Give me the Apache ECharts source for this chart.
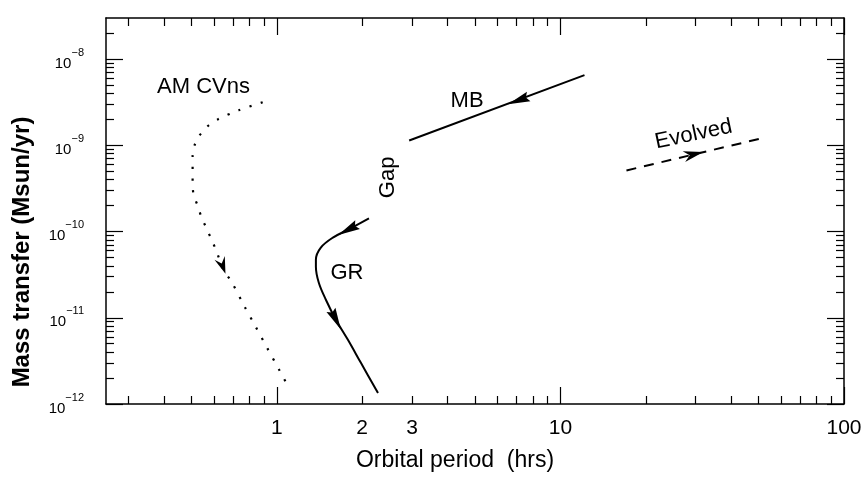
<!DOCTYPE html>
<html>
<head>
<meta charset="utf-8">
<title>Mass transfer vs orbital period</title>
<script src="https://cdn.jsdelivr.net/npm/echarts@6/dist/echarts.min.js"></script>
<style>
  html, body { margin: 0; padding: 0; background: #fff; }
  #chart { width: 865px; height: 479px; }
</style>
</head>
<body>
<div id="chart"></div>
<script>
// Evolutionary tracks: orbital period (hours) against mass-transfer rate (Msun/yr).
// Each track is listed in the direction of travel.
const amcvnsPeriod = [0.892, 0.734, 0.619, 0.570, 0.535, 0.513, 0.505, 0.505, 0.505, 0.509, 0.526, 0.543, 0.566, 0.589, 0.614, 0.644, 0.699, 0.771, 0.843, 0.929, 1.025, 1.076];
const amcvnsRate   = [3.16e-9, 2.55e-9, 2.0e-9, 1.66e-9, 1.31e-9, 1.0e-9, 7.45e-10, 5.12e-10, 3.71e-10, 2.69e-10, 2.0e-10, 1.46e-10, 1.08e-10, 8.07e-11, 5.85e-11, 3.81e-11, 2.48e-11, 1.34e-11, 7.85e-12, 4.36e-12, 2.42e-12, 1.80e-12];

const grPeriod = [2.114, 1.782, 1.577, 1.43, 1.374, 1.374, 1.407, 1.49, 1.616, 1.782, 1.98, 2.275];
const grRate   = [1.42e-10, 1.05e-10, 8.51e-11, 6.52e-11, 4.72e-11, 3.92e-11, 2.55e-11, 1.62e-11, 9.5e-12, 5.55e-12, 3.0e-12, 1.34e-12];

const mbPeriod = [12.16, 2.93];
const mbRate   = [6.52e-9, 1.14e-9];

const evolvedPeriod = [17.1, 50.9];
const evolvedRate   = [5.12e-10, 1.2e-9];

// Direction arrows sitting on the tracks
const arrowTrack  = ['amcvns', 'gr', 'gr', 'mb', 'evolved'];
const arrowPeriod = [0.644, 1.782, 1.616, 7.11, 29.5];
const arrowRate   = [4.0e-11, 1.05e-10, 9.5e-12, 3.33e-9, 7.85e-10];

// Annotations
const noteText   = ['AM CVns', 'MB', 'Gap', 'GR', 'Evolved'];
const notePeriod = [0.552, 4.69, 2.47, 1.767, 29.5];
const noteRate   = [4.72e-9, 3.25e-9, 4.25e-10, 3.33e-11, 1.34e-9];

// Axis ticks
const periodLabels = [1, 2, 3, 10, 100];
const periodMajor  = [1, 10, 100];
const periodMinor  = [0.3, 0.4, 0.5, 0.6, 0.7, 0.8, 0.9, 2, 3, 4, 5, 6, 7, 8, 9, 20, 30, 40, 50, 60, 70, 80, 90];
const rateMajor = [1e-12, 1e-11, 1e-10, 1e-9, 1e-8];
const rateMinor = [2e-12, 3e-12, 4e-12, 5e-12, 6e-12, 7e-12, 8e-12, 9e-12,
                   2e-11, 3e-11, 4e-11, 5e-11, 6e-11, 7e-11, 8e-11, 9e-11,
                   2e-10, 3e-10, 4e-10, 5e-10, 6e-10, 7e-10, 8e-10, 9e-10,
                   2e-9, 3e-9, 4e-9, 5e-9, 6e-9, 7e-9, 8e-9, 9e-9,
                   2e-8];

const FONT = '"Liberation Sans", Arial, Helvetica, sans-serif';
const INK = '#000';

const zip = (xs, ys) => xs.map((x, i) => [x, ys[i]]);
const tracks = {
  amcvns: zip(amcvnsPeriod, amcvnsRate),
  gr: zip(grPeriod, grRate),
  mb: zip(mbPeriod, mbRate),
  evolved: zip(evolvedPeriod, evolvedRate)
};

const noteStyle = {
  'AM CVns': { rotate: 0 },
  'MB': { rotate: 0 },
  'Gap': { rotate: 90 },
  'GR': { rotate: 0 },
  'Evolved': { rotate: 12 }
};

const arrowShape = {
  amcvns: { path: 'path://M0,0 L14,5 L0,10 L5,5 Z', size: [17, 11] },
  gr: { path: 'path://M0,0 L22,5 L0,10 L3,5 Z', size: [22, 10] },
  mb: { path: 'path://M0,0 L22,5 L0,10 L3,5 Z', size: [22, 10] },
  evolved: { path: 'path://M0,0 L20,5 L0,10 L6,5 Z', size: [20, 11] }
};

const PX_MIN = 0.25, PX_MAX = 100;
const RATE_MIN = 1e-12, RATE_MAX = 3e-8;

const frameLine = { show: true, onZero: false, lineStyle: { color: INK, width: 1.5 } };
const tickLine = { color: INK, width: 1.2 };

function xAxisDef(position, ticks, len, opts) {
  return Object.assign({
    type: 'log', logBase: 10, min: PX_MIN, max: PX_MAX, position: position,
    gridIndex: 0, splitLine: { show: false },
    axisLine: frameLine,
    axisTick: { show: true, inside: true, length: len, customValues: ticks, lineStyle: tickLine },
    axisLabel: { show: false }
  }, opts || {});
}
function yAxisDef(position, ticks, len, opts) {
  return Object.assign({
    type: 'log', logBase: 10, min: RATE_MIN, max: RATE_MAX, position: position,
    gridIndex: 0, splitLine: { show: false },
    axisLine: frameLine,
    axisTick: { show: true, inside: true, length: len, customValues: ticks, lineStyle: tickLine },
    axisLabel: { show: false }
  }, opts || {});
}

const chart = echarts.init(document.getElementById('chart'), null, { renderer: 'canvas' });

const option = {
  animation: false,
  backgroundColor: '#fff',
  grid: { left: 106, right: 21, top: 18, bottom: 75, containLabel: false },
  xAxis: [
    xAxisDef('bottom', periodMajor, 17, {
      name: 'Orbital period  (hrs)',
      nameLocation: 'middle',
      nameGap: 45,
      nameTextStyle: { fontFamily: FONT, fontSize: 23, color: INK, padding: [0, 40, 0, 0] },
      axisLabel: {
        show: true, customValues: periodLabels, margin: 14,
        fontFamily: FONT, fontSize: 21, color: INK,
        formatter: v => String(Math.round(v))
      }
    }),
    xAxisDef('bottom', periodMinor, 8, { axisLine: { show: false } }),
    xAxisDef('top', periodMajor, 17),
    xAxisDef('top', periodMinor, 8, { axisLine: { show: false } })
  ],
  yAxis: [
    yAxisDef('left', rateMajor, 17, {
      name: 'Mass transfer (Msun/yr)',
      nameLocation: 'middle',
      nameGap: 72,
      nameTextStyle: { fontFamily: FONT, fontSize: 24, fontWeight: 'bold', color: INK, padding: [0, 82, 0, 0] },
      axisLabel: {
        show: true, customValues: rateMajor, margin: 22,
        formatter: v => '{b|10}{s|\u2212' + Math.abs(Math.round(Math.log10(v))) + '}',
        rich: {
          b: { fontFamily: FONT, fontSize: 15, color: INK, lineHeight: 24, verticalAlign: 'bottom' },
          s: { fontFamily: FONT, fontSize: 11, color: INK, lineHeight: 24, verticalAlign: 'top' }
        }
      }
    }),
    yAxisDef('left', rateMinor, 8, { axisLine: { show: false } }),
    yAxisDef('right', rateMajor, 17),
    yAxisDef('right', rateMinor, 8, { axisLine: { show: false } })
  ],
  series: [
    {
      name: 'AM CVns', type: 'line', data: tracks.amcvns, showSymbol: false, smooth: 0.3,
      lineStyle: { color: INK, width: 2.2, type: [2.2, 9.5] }, silent: true
    },
    {
      name: 'GR', type: 'line', data: tracks.gr, showSymbol: false, smooth: 0.35,
      lineStyle: { color: INK, width: 2 }, silent: true
    },
    {
      name: 'MB', type: 'line', data: tracks.mb, showSymbol: false,
      lineStyle: { color: INK, width: 2 }, silent: true
    },
    {
      name: 'Evolved', type: 'line', data: tracks.evolved, showSymbol: false,
      lineStyle: { color: INK, width: 2, type: [10, 8] }, silent: true
    },
    {
      name: 'notes', type: 'scatter', silent: true, symbolSize: 1,
      itemStyle: { color: 'rgba(0,0,0,0)', opacity: 1 },
      data: noteText.map((t, i) => ({
        value: [notePeriod[i], noteRate[i]],
        name: t,
        label: {
          show: true, position: 'inside', formatter: t,
          rotate: noteStyle[t].rotate, opacity: 1,
          fontFamily: FONT, fontSize: 22, color: INK
        }
      }))
    }
  ]
};

chart.setOption(option);

// Arrowheads: orient each along the nearest segment of its track, in pixel space
function toPx(p) { return chart.convertToPixel({ xAxisIndex: 0, yAxisIndex: 0 }, p); }
function segDist(q, a, b) {
  const dx = b[0] - a[0], dy = b[1] - a[1];
  const l2 = dx * dx + dy * dy || 1;
  let t = ((q[0] - a[0]) * dx + (q[1] - a[1]) * dy) / l2;
  t = Math.max(0, Math.min(1, t));
  const cx = a[0] + t * dx - q[0], cy = a[1] + t * dy - q[1];
  return Math.sqrt(cx * cx + cy * cy);
}
function headingAt(trackName, pt) {
  const px = tracks[trackName].map(toPx);
  const q = toPx(pt);
  let best = 0, bestD = Infinity;
  for (let i = 0; i < px.length - 1; i++) {
    const d = segDist(q, px[i], px[i + 1]);
    if (d < bestD) { bestD = d; best = i; }
  }
  const a = px[best], b = px[best + 1];
  return Math.atan2(-(b[1] - a[1]), b[0] - a[0]) * 180 / Math.PI;
}

const arrowData = arrowTrack.map((tr, i) => {
  const pt = [arrowPeriod[i], arrowRate[i]];
  return {
    value: pt,
    symbol: arrowShape[tr].path,
    symbolSize: arrowShape[tr].size,
    symbolRotate: headingAt(tr, pt)
  };
});

chart.setOption({
  series: option.series.concat([{
    name: 'arrows', type: 'scatter', silent: true, symbolKeepAspect: false,
    itemStyle: { color: INK, opacity: 1 }, z: 5,
    data: arrowData
  }])
});
</script>
</body>
</html>
